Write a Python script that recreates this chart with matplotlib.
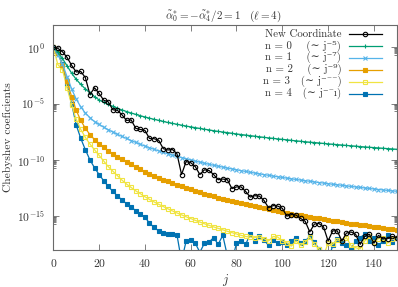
import numpy as np
import matplotlib
matplotlib.use("Agg")
import matplotlib.pyplot as plt
from matplotlib.ticker import FixedLocator, LogFormatterMathtext, NullFormatter

plt.rcParams['font.family'] = ['cmr10', 'DejaVu Serif']
plt.rcParams['mathtext.fontset'] = 'cm'
plt.rcParams['axes.formatter.use_mathtext'] = True

# ---------------- data (log10 of |coefficient|) ----------------
j = np.arange(0, 151, 2)

new_coord_log = [0, -0.1, -0.4, -0.9, -1.6, -2.2, -2.15, -2.7, -4.2, -3.6,
                 -4.1, -4.7, -4.85, -5.55, -5.6, -6.0, -6.5, -6.45, -7.2, -7.3,
                 -7.38, -8.1, -8.12, -8.25, -9.0, -9.12, -9.08, -9.45, -11.3, -10.15,
                 -10.25, -10.6, -11.3, -10.88, -10.94, -11.3, -11.76, -11.7, -11.76, -12.55,
                 -12.4, -12.4, -12.8, -13.3, -13.18, -13.22, -13.6, -14.25, -14.06, -14.1,
                 -14.3, -15.0, -14.85, -14.9, -15.2, -15.45, -16.4, -15.7, -15.65, -15.95,
                 -17.2, -16.3, -16.3, -17.2, -16.5, -16.4, -16.6, -17.5, -16.8, -16.6,
                 -17.4, -16.7, -17.0, -17.0, -16.8, -16.9]

n0_log = [0, -0.45, -1.0, -1.65, -2.3, -2.85, -3.3, -3.7, -4.05, -4.38,
          -4.68, -4.89, -5.08, -5.25, -5.42, -5.57, -5.71, -5.84, -5.96, -6.08,
          -6.19, -6.30, -6.40, -6.49, -6.59, -6.68, -6.76, -6.84, -6.92, -7.00,
          -7.07, -7.14, -7.21, -7.28, -7.34, -7.41, -7.47, -7.53, -7.58, -7.64,
          -7.70, -7.75, -7.80, -7.85, -7.90, -7.95, -8.00, -8.05, -8.09, -8.14,
          -8.18, -8.22, -8.27, -8.31, -8.35, -8.39, -8.43, -8.46, -8.50, -8.54,
          -8.58, -8.61, -8.65, -8.68, -8.72, -8.75, -8.78, -8.82, -8.85, -8.88,
          -8.91, -8.94, -8.97, -9.00, -9.03, -9.06]

n1_log = [0, -0.65, -1.5, -2.6, -3.7, -4.6, -5.3, -5.85, -6.25, -6.6,
          -6.85, -7.1, -7.32, -7.53, -7.73, -7.92, -8.10, -8.28, -8.45, -8.62,
          -8.77, -8.92, -9.06, -9.20, -9.33, -9.45, -9.57, -9.69, -9.80, -9.90,
          -10.01, -10.11, -10.20, -10.30, -10.39, -10.48, -10.56, -10.64, -10.73, -10.80,
          -10.88, -10.96, -11.03, -11.10, -11.17, -11.24, -11.31, -11.37, -11.44, -11.50,
          -11.56, -11.62, -11.68, -11.74, -11.79, -11.85, -11.90, -11.96, -12.01, -12.06,
          -12.11, -12.17, -12.21, -12.26, -12.31, -12.36, -12.40, -12.45, -12.49, -12.54,
          -12.58, -12.63, -12.67, -12.71, -12.75, -12.79]

n2_log = [0, -0.5, -1.6, -3.0, -4.4, -5.6, -6.5, -7.2, -7.75, -8.2,
          -8.55, -8.9, -9.2, -9.45, -9.7, -9.93, -10.17, -10.40, -10.63, -10.84,
          -11.04, -11.23, -11.41, -11.59, -11.75, -11.91, -12.06, -12.21, -12.35, -12.49,
          -12.62, -12.75, -12.88, -13.00, -13.11, -13.23, -13.34, -13.44, -13.55, -13.65,
          -13.75, -13.84, -13.94, -14.03, -14.12, -14.21, -14.29, -14.38, -14.46, -14.54,
          -14.62, -14.70, -14.77, -14.85, -14.92, -14.99, -15.06, -15.13, -15.20, -15.27,
          -15.33, -15.40, -15.46, -15.52, -15.58, -15.65, -15.71, -15.76, -15.82, -15.88,
          -15.94, -15.99, -16.05, -16.10, -16.15, -16.21]

n3_log = [0, -1.55, -2.0, -3.6, -5.1, -6.4, -7.3, -8.0, -8.6, -9.1,
          -9.6, -10.1, -10.6, -11.0, -11.4, -11.8, -12.15, -12.45, -12.75, -13.0,
          -13.27, -13.51, -13.73, -13.94, -14.14, -14.34, -14.53, -14.71, -14.88, -15.05,
          -15.21, -15.37, -15.52, -15.67, -15.81, -15.95, -16.08, -16.21, -16.34, -16.46,
          -16.58, -16.70, -16.8, -16.85, -16.9, -16.85, -17.0, -17.2, -16.8, -16.85,
          -17.2, -17.35, -17.65, -17.2, -17.6, -17.3, -16.85, -17.5, -17.9, -18.5,
          -17.4, -17.5, -17.1, -17.2, -16.9, -17.6, -17.8, -17.9, -17.2, -16.8,
          -17.3, -17.0, -16.9, -17.4, -17.0, -16.9]

n4_log = [0, -0.45, -1.5, -3.3, -5.0, -6.9, -8.1, -9.1, -10.0, -10.7,
          -11.3, -11.85, -12.35, -12.8, -13.2, -13.55, -13.9, -14.2, -14.5, -14.8,
          -15.1, -15.6, -16.0, -16.3, -16.5, -16.55, -16.6, -16.65, -19.0, -17.2,
          -17.1, -17.4, -18.2, -17.4, -17.3, -16.9, -17.5, -16.7, -18.5, -19.0,
          -17.4, -17.2, -17.5, -16.6, -17.2, -16.8, -17.1, -17.6, -17.1, -17.4,
          -17.3, -17.6, -17.2, -16.9, -17.4, -17.2, -16.8, -17.3, -17.9, -18.5,
          -19.0, -17.6, -17.0, -17.4, -17.6, -17.9, -17.2, -16.9, -16.6, -17.2,
          -16.9, -17.6, -17.2, -16.7, -17.3, -16.9]

labels = ["New Coordinate",
          "n = 0    (\u223c j\u207b\u2075)",
          "n = 1    (\u223c j\u207b\u2077)",
          "n = 2    (\u223c j\u207b\u2079)",
          "n = 3   (\u223c j\u207b\u00b9\u00b9)",
          "n = 4   (\u223c j\u207b\u00b9\u00b3)"]
series = [new_coord_log, n0_log, n1_log, n2_log, n3_log, n4_log]
colors = ["black", "#009e73", "#56b4e9", "#e69f00", "#f0e442", "#0072b2"]
markers = ["o", "+", "x", "s", "s", "s"]
mfc = ["none", None, None, None, "none", None]

fig = plt.figure(figsize=(3.98, 2.87), dpi=100)
ax_h_px = 250 - 24.7
ax = fig.add_axes([53.3/398, 1-250/287, (396.8-53.3)/398, ax_h_px/287])

txtc = '#333333'
# legend layout
row_step = 11.9
row_px = [34 + k*row_step for k in range(6)]
leg_rows = [(250 - r)/ax_h_px for r in row_px]
leg_text_x = 0.838
leg_line = (0.861, 0.956)

# largest legend font whose text boxes fit in one row
renderer = fig.canvas.get_renderer()
leg_fs = 7.8
while leg_fs > 6.0:
    hmax = 0
    for lab in labels:
        t = fig.text(0.5, 0.5, lab, fontsize=leg_fs)
        hmax = max(hmax, t.get_window_extent(renderer).height)
        t.remove()
    if hmax <= row_step - 0.5:
        break
    leg_fs -= 0.1

order = [5, 4, 3, 2, 1, 0]
for i in order:
    kw = dict(color=colors[i], marker=markers[i], lw=0.9, ms=3.2, mew=0.8)
    if mfc[i] is not None:
        kw['mfc'] = mfc[i]
    ax.plot(j, 10.0**np.array(series[i]), **kw)
    # legend sample
    yk = leg_rows[i]
    ax.plot(leg_line, (yk, yk), transform=ax.transAxes, color=colors[i],
            lw=0.9, clip_on=False)
    ax.plot([(leg_line[0]+leg_line[1])/2], [yk], transform=ax.transAxes,
            clip_on=False, ls='none', **{k: v for k, v in kw.items() if k != 'lw'})
    ax.text(leg_text_x, yk, labels[i], transform=ax.transAxes, ha='right',
            va='center', fontsize=leg_fs, color=txtc)

ax.set_yscale('log')
ax.set_xlim(0, 150)
ax.set_ylim(1e-18, 1e2)
ax.xaxis.set_major_locator(FixedLocator([0, 20, 40, 60, 80, 100, 120, 140]))
ax.yaxis.set_major_locator(FixedLocator([1e0, 1e-5, 1e-10, 1e-15]))
ax.yaxis.set_major_formatter(LogFormatterMathtext())
minor = [k*10.0**(m-1) for m in (0, -5, -10, -15) for k in range(2, 10)]
ax.yaxis.set_minor_locator(FixedLocator(minor))
ax.yaxis.set_minor_formatter(NullFormatter())

frame = '#6a6a6a'
for s in ax.spines.values():
    s.set_color(frame)
    s.set_linewidth(0.8)
ax.tick_params(which='both', direction='in', top=True, right=True, color=frame,
               labelsize=8.3, labelcolor=txtc, width=0.6)
ax.tick_params(which='major', length=4)
ax.tick_params(which='minor', length=2)
ax.tick_params(axis='x', pad=5)
ax.tick_params(axis='y', pad=6)

ax.set_xlabel(r"$j$", fontsize=9, color=txtc, labelpad=2)
ax.set_ylabel("Chebyshev coeficients", fontsize=8.3, color=txtc, labelpad=3)
fig.text(223.5/398, 1-16/287,
         r"$\tilde{\alpha}_0^{*} = -\tilde{\alpha}_4^{*}/2 = 1 \quad (\ell = 4)$",
         ha='center', va='center', fontsize=8, color=txtc)

fig.savefig("out.png", dpi=100)
